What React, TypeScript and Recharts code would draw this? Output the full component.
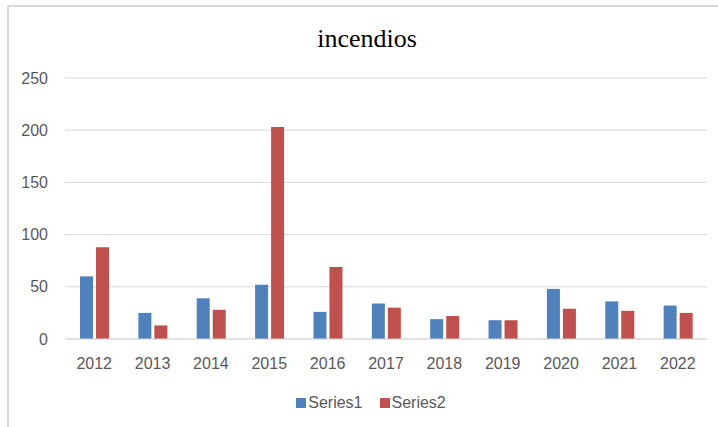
import React from "react";
import { BarChart, Bar, XAxis, YAxis, CartesianGrid, Legend } from "recharts";

const years = ["2012", "2013", "2014", "2015", "2016", "2017", "2018", "2019", "2020", "2021", "2022"];
const series1 = [60, 25, 39, 52, 26, 34, 19, 18, 48, 36, 32];
const series2 = [88, 13, 28, 203, 69, 30, 22, 18, 29, 27, 25];
const yTicks = [0, 50, 100, 150, 200, 250];
const seriesNames = ["Series1", "Series2"];
const colors = ["#4F81BD", "#C0504D"];

const data = years.map((y, i) => ({ year: y, s1: series1[i], s2: series2[i] }));

const FONT = "'Liberation Sans', Arial, sans-serif";

const LegendContent = () => (
  <div
    style={{
      display: "flex",
      justifyContent: "center",
      alignItems: "center",
      paddingLeft: 24,
      height: 20,
      fontFamily: FONT,
      fontSize: 16,
      color: "#595959",
    }}
  >
    {seriesNames.map((n, i) => (
      <div key={n} style={{ display: "flex", alignItems: "center", marginRight: i === 0 ? 17 : 0 }}>
        <div style={{ width: 10, height: 10, background: colors[i], marginRight: 2 }} />
        <span>{n}</span>
      </div>
    ))}
  </div>
);

export default function App() {
  return (
    <div style={{ position: "absolute", left: 0, top: 0, width: 718, height: 427, background: "#fff" }}>
      <div
        style={{
          position: "absolute",
          left: 7,
          top: 5,
          width: 711,
          height: 422,
          borderTop: "2px solid #d9d9d9",
          borderLeft: "2px solid #d9d9d9",
          boxSizing: "border-box",
        }}
      />
      <div style={{ position: "absolute", left: 0, top: 0 }}>
        <BarChart
          width={718}
          height={427}
          data={data}
          margin={{ top: 78, right: 11, left: 0, bottom: 14 }}
          barSize={13}
          barGap={3}
        >
          <text
            x={367}
            y={47}
            textAnchor="middle"
            style={{ fontFamily: "'Liberation Serif', 'Times New Roman', serif", fontSize: 26, fill: "#000" }}
          >
            incendios
          </text>
          <CartesianGrid vertical={false} stroke="#d9d9d9" strokeWidth={1} />
          <XAxis
            dataKey="year"
            height={54}
            tickLine={false}
            tickSize={0}
            tickMargin={19}
            axisLine={{ stroke: "#d9d9d9", strokeWidth: 1 }}
            tick={{ fill: "#595959", fontSize: 16, fontFamily: FONT }}
            interval={0}
          />
          <YAxis
            width={65}
            domain={[0, 250]}
            ticks={yTicks}
            tickLine={false}
            tickSize={0}
            tickMargin={17}
            axisLine={false}
            tick={{ fill: "#595959", fontSize: 16, fontFamily: FONT }}
          />
          <Legend
            verticalAlign="bottom"
            content={<LegendContent />}
            wrapperStyle={{ left: 0, width: 718 }}
          />
          <Bar dataKey="s1" name={seriesNames[0]} fill={colors[0]} isAnimationActive={false} />
          <Bar dataKey="s2" name={seriesNames[1]} fill={colors[1]} isAnimationActive={false} />
        </BarChart>
      </div>
    </div>
  );
}
